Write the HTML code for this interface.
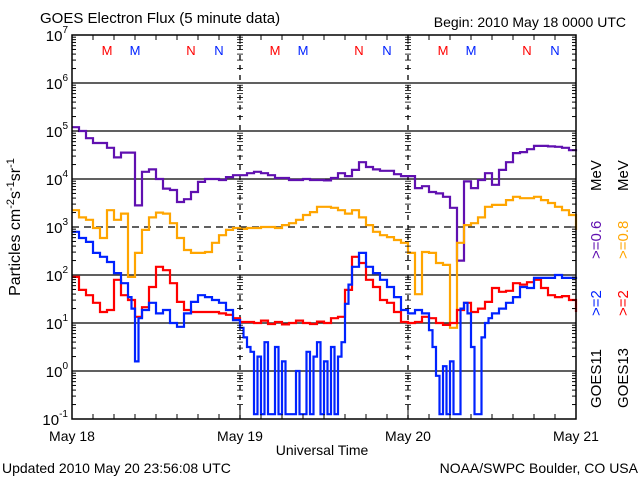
<!DOCTYPE html>
<html><head><meta charset="utf-8"><style>
html,body{margin:0;padding:0;background:#fff;}
svg{display:block;font-family:"Liberation Sans",sans-serif;}
</style></head><body>
<svg id="chart" width="640" height="480" viewBox="0 0 640 480" xmlns="http://www.w3.org/2000/svg">
<text x="40" y="23" font-size="15">GOES Electron Flux (5 minute data)</text>
<text x="626" y="27" font-size="14" text-anchor="end">Begin: 2010 May 18 0000 UTC</text>
<text x="2" y="473" font-size="14">Updated 2010 May 20 23:56:08 UTC</text>
<text x="638" y="473" font-size="14" text-anchor="end">NOAA/SWPC Boulder, CO USA</text>
<text x="322" y="455" font-size="14" text-anchor="middle">Universal Time</text>
<text transform="translate(20,227) rotate(-90)" font-size="16" text-anchor="middle">Particles cm<tspan font-size="11" dy="-6">-2</tspan><tspan dy="6">s</tspan><tspan font-size="11" dy="-6">-1</tspan><tspan dy="6">sr</tspan><tspan font-size="11" dy="-6">-1</tspan></text>
<g id="grid"></g>
<g id="series"></g>
<g id="axes"></g>
<g font-size="15">
<text transform="translate(601,408) rotate(-90)">GOES11</text>
<text transform="translate(601,316) rotate(-90)" fill="#0022ff">&gt;=2</text>
<text transform="translate(601,259) rotate(-90)" fill="#6010b0">&gt;=0.6</text>
<text transform="translate(601,191) rotate(-90)">MeV</text>
<text transform="translate(628,408) rotate(-90)">GOES13</text>
<text transform="translate(628,316) rotate(-90)" fill="#ff0000">&gt;=2</text>
<text transform="translate(628,259) rotate(-90)" fill="#ffa500">&gt;=0.8</text>
<text transform="translate(628,191) rotate(-90)">MeV</text>
</g>
</svg>
<script>
const purpleVals=[5.08,5.0,4.85,4.75,4.75,4.65,4.45,4.55,4.55,3.45,4.15,4.2,4.0,3.8,3.77,3.52,3.58,3.73,3.94,4.0,4.0,3.98,4.04,4.08,4.08,4.12,4.15,4.12,4.08,4.02,4.02,3.98,3.98,4.0,3.98,3.98,3.97,4.02,4.12,4.06,4.19,4.35,4.25,4.2,4.17,4.17,4.1,4.06,4.06,3.81,3.85,3.73,3.7,3.63,3.4,2.3,3.95,3.81,3.98,4.12,3.88,4.19,4.35,4.54,4.56,4.62,4.69,4.69,4.68,4.67,4.65,4.6,4.58];
const orangeVals=[3.35,3.2,3.15,2.98,2.77,3.35,3.15,3.28,1.96,2.46,2.94,3.2,3.3,3.28,3.08,2.77,2.52,2.46,2.46,2.48,2.67,2.83,2.94,2.98,2.96,2.98,2.98,3.0,3.0,2.98,3.04,3.08,3.15,3.25,3.31,3.42,3.42,3.4,3.35,3.28,3.35,3.2,3.04,2.9,2.83,2.79,2.73,2.67,2.46,1.6,2.48,2.46,2.25,2.21,0.9,2.67,3.04,3.08,3.2,3.42,3.46,3.46,3.56,3.63,3.6,3.6,3.63,3.56,3.5,3.42,3.35,3.25,2.94];
const redVals=[1.96,1.69,1.58,1.42,1.23,1.27,1.9,1.58,1.48,1.13,1.33,1.75,2.17,2.1,1.83,1.44,1.27,1.23,1.23,1.23,1.23,1.2,1.17,1.1,1.02,1.02,1.0,1.05,0.98,1.02,0.97,1.0,1.05,1.0,0.98,1.03,1.0,1.1,1.13,1.69,2.38,2.25,1.9,1.75,1.48,1.42,1.23,1.02,1.0,1.02,1.13,1.1,1.0,0.96,1.0,1.27,1.42,1.23,1.3,1.44,1.73,1.65,1.67,1.83,1.8,1.85,1.9,1.73,1.58,1.54,1.56,1.48,1.23];
const blueHours=[0,1,2,3,4,5,6,7,8,8.5,9,9.5,10,11,12,13,14,15,16,17,18,19,20,21,22,23,24,24.5,25,25.5,26,26.5,27,27.5,28,28.5,29,29.5,30,30.5,31,31.5,32,32.5,33,33.5,34,34.5,35,35.5,36,36.5,37,37.5,38,38.5,39,39.5,40,41,42,43,44,45,46,47,48,49,50,51,51.5,52,52.5,53,53.5,54,54.5,55,55.5,56,56.5,57,57.5,58,58.5,59,59.5,60,61,62,63,64,65,66,67,68,69,70,71,72];
const blueVals=[2.9,2.77,2.69,2.46,2.38,2.27,2.04,1.83,1.54,1.3,0.2,1.1,1.27,1.42,1.2,1.27,1.0,0.92,1.2,1.44,1.58,1.54,1.48,1.42,1.27,1.06,0.9,0.7,0.5,0.4,-0.9,0.3,-0.9,0.6,-0.9,-0.9,0.5,-0.9,0.2,-0.9,-0.9,-0.9,0.0,-0.9,-0.9,0.4,-0.9,0.3,0.6,-0.9,0.2,-0.9,0.5,-0.9,0.3,0.6,1.4,1.8,2.17,2.46,2.17,2.04,1.9,1.75,1.54,1.27,1.2,1.27,1.2,0.85,0.5,-0.1,-0.9,0.1,-0.9,0.2,-0.9,-0.9,1.3,1.42,1.2,0.5,-0.9,-0.9,0.7,1.0,1.1,1.2,1.3,1.42,1.54,1.75,1.73,1.94,1.94,1.94,2.0,1.94,1.94,1.96];
const decadeLabels=["-1","0","1","2","3","4","5","6","7"];
const dayLabels=["May 18","May 19","May 20","May 21"];
const markerLabels=[["M","#ff0000",5],["M","#0022ff",9],["N","#ff0000",17],["N","#0022ff",21]];

const L=72,R=576,T=35,B=419;
const xs=h=>L+h*(R-L)/72;
const ys=v=>B-(v+1)*(B-T)/8;
const NS="http://www.w3.org/2000/svg";
function mk(tag,parent,attrs){const e=document.createElementNS(NS,tag);for(const k in attrs)e.setAttribute(k,attrs[k]);parent.appendChild(e);return e;}
const grid=document.getElementById('grid'),axes=document.getElementById('axes'),ser=document.getElementById('series');

decadeLabels.forEach((d,i)=>{
  const v=+d,y=ys(v);
  if(v>-1&&v<7){
    const ln=mk('line',grid,{x1:L,x2:R,y1:y,y2:y,stroke:'#000','stroke-width':1.3});
    if(v===3)ln.setAttribute('stroke-dasharray','7,5');
    
    
  }
  const t=mk('text',axes,{x:68,y:y+6,'font-size':15,'text-anchor':'end'});
  
  
  t.textContent='10';
  const s=mk('tspan',t,{'font-size':10,dy:-8});s.textContent=d;
  if(v<7){for(let m=2;m<10;m++){const yy=ys(v+Math.log10(m));
    [L,R,xs(24),xs(48)].forEach((x,k)=>{
      const len=k===0?4:(k===1?-4:3);
      if(k<2)mk('line',axes,{x1:x,x2:x+len,y1:yy,y2:yy,stroke:'#000'});
      else mk('line',axes,{x1:x-len,x2:x+len,y1:yy,y2:yy,stroke:'#000','stroke-width':0.8});
    });}}
  [L,R].forEach((x,k)=>mk('line',axes,{x1:x,x2:x+(k?-7:7),y1:y,y2:y,stroke:'#000'}));
});
[24,48].forEach(h=>{
  const ln=mk('line',grid,{x1:xs(h),x2:xs(h),y1:T,y2:B,stroke:'#000','stroke-width':1.3,'stroke-dasharray':'5,5'});
  
  
});
for(let h=0;h<=72;h+=3){
  const x=xs(h),len=h%24===0?9:5;
  mk('line',axes,{x1:x,x2:x,y1:B,y2:B-len,stroke:'#000'});
  mk('line',axes,{x1:x,x2:x,y1:T,y2:T+len,stroke:'#000'});
}
dayLabels.forEach((d,i)=>{
  const t=mk('text',axes,{x:xs(i*24),y:441,'font-size':14,'text-anchor':'middle'});
  
  
  t.textContent=d;
});
for(let day=0;day<3;day++)markerLabels.forEach(m=>{
  const t=mk('text',axes,{x:xs(day*24+m[2]),y:55,'font-size':13,'text-anchor':'middle',fill:m[1]});
  
  
  t.textContent=m[0];
});
const fr=mk('rect',axes,{x:L,y:T,width:R-L,height:B-T,fill:'none',stroke:'#000','stroke-width':1.5});



function drawSeries(hours,vals,color,name){
  let d='';
  vals.forEach((v,i)=>{
    const x=xs(hours[i]).toFixed(1),y=ys(v).toFixed(1);
    if(i===0)d+='M'+x+','+y;
    else d+='H'+x+'V'+y;
  });
  const p=mk('path',ser,{d:d,fill:'none',stroke:color,'stroke-width':2.2,'stroke-linejoin':'miter'});
  
  
}
const hourly=purpleVals.map((_,i)=>i);
drawSeries(hourly,purpleVals,'#6010b0','series-goes11-0.6mev');
drawSeries(hourly,orangeVals,'#ffa500','series-goes13-0.8mev');
drawSeries(hourly,redVals,'#ff0000','series-goes13-2mev');
drawSeries(blueHours,blueVals,'#0022ff','series-goes11-2mev');
</script>
</body></html>
